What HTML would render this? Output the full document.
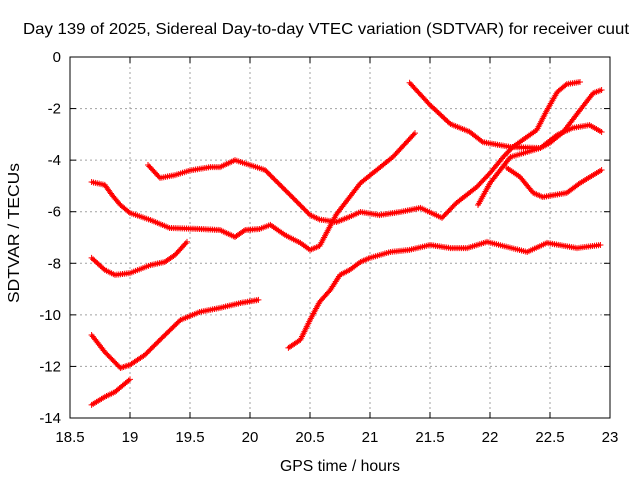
<!DOCTYPE html>
<html><head><meta charset="utf-8"><style>body{margin:0;background:#fff}svg{display:block}text{font-family:"Liberation Sans",sans-serif;font-size:14px;fill:#000}</style></head>
<body>
<svg id="chart" width="640" height="480">
<text x="326" y="34" text-anchor="middle" textLength="606" lengthAdjust="spacingAndGlyphs" style="font-size:16px">Day 139 of 2025, Sidereal Day-to-day VTEC variation (SDTVAR) for receiver cuut</text>
<text x="340" y="471" text-anchor="middle" textLength="120" lengthAdjust="spacingAndGlyphs" style="font-size:15.5px">GPS time / hours</text>
<text x="19" y="233" text-anchor="middle" textLength="140" lengthAdjust="spacingAndGlyphs" style="font-size:15.5px" transform="rotate(-90 19 233)">SDTVAR / TECUs</text>
<g id="grid"></g>
<g id="series"></g>
<rect x="70" y="57" width="540" height="361" fill="none" stroke="#000" stroke-width="1"/>
<g id="ticks"></g>
</svg>
<script>
const xTicks=[18.5,19,19.5,20,20.5,21,21.5,22,22.5,23];
const xTickLabels=["18.5","19","19.5","20","20.5","21","21.5","22","22.5","23"];
const yTicks=[0,-2,-4,-6,-8,-10,-12,-14];
const yTickLabels=["0","-2","-4","-6","-8","-10","-12","-14"];
const seriesA=[[18.68,-4.85],[18.79,-4.96],[18.85,-5.35],[18.92,-5.74],[19.0,-6.05],[19.17,-6.32],[19.33,-6.63],[19.58,-6.67],[19.75,-6.71],[19.875,-6.98],[19.96,-6.71],[20.08,-6.67],[20.17,-6.51],[20.29,-6.9],[20.42,-7.21],[20.5,-7.48],[20.58,-7.33],[20.64,-6.8],[20.72,-6.1],[20.92,-4.89],[21.19,-3.88],[21.375,-2.95]];
const seriesB=[[19.15,-4.19],[19.25,-4.69],[19.375,-4.58],[19.5,-4.4],[19.67,-4.27],[19.75,-4.27],[19.875,-4.0],[20.0,-4.19],[20.125,-4.38],[20.25,-4.96],[20.375,-5.54],[20.5,-6.13],[20.58,-6.3],[20.72,-6.4],[20.83,-6.2],[20.92,-6.01],[21.08,-6.13],[21.25,-6.01],[21.42,-5.85],[21.6,-6.24],[21.72,-5.66],[21.89,-5.04],[22.0,-4.5],[22.11,-3.88],[22.19,-3.49],[22.39,-2.83],[22.475,-2.06],[22.56,-1.36],[22.64,-1.05],[22.75,-0.97]];
const seriesC=[[18.68,-7.79],[18.79,-8.26],[18.875,-8.45],[19.0,-8.38],[19.17,-8.07],[19.29,-7.95],[19.375,-7.68],[19.475,-7.17]];
const seriesD=[[18.68,-10.78],[18.79,-11.44],[18.92,-12.06],[19.0,-11.94],[19.125,-11.55],[19.25,-10.97],[19.42,-10.2],[19.58,-9.89],[19.75,-9.73],[19.92,-9.54],[20.07,-9.42]];
const seriesE=[[18.68,-13.49],[18.79,-13.18],[18.875,-12.99],[19.0,-12.5]];
const seriesF=[[20.32,-11.28],[20.42,-10.97],[20.5,-10.2],[20.58,-9.5],[20.67,-9.03],[20.75,-8.45],[20.83,-8.26],[20.92,-7.95],[21.0,-7.79],[21.17,-7.56],[21.33,-7.48],[21.5,-7.29],[21.67,-7.41],[21.81,-7.41],[21.975,-7.17],[22.31,-7.56],[22.475,-7.21],[22.725,-7.41],[22.92,-7.29]];
const seriesG=[[21.33,-1.0],[21.5,-1.86],[21.67,-2.6],[21.83,-2.9],[21.94,-3.3],[22.17,-3.49],[22.42,-3.53],[22.5,-3.33],[22.61,-2.91],[22.75,-2.06],[22.86,-1.4],[22.93,-1.28]];
const seriesH=[[21.9,-5.74],[22.0,-4.89],[22.17,-3.88],[22.42,-3.53],[22.56,-3.02],[22.69,-2.75],[22.83,-2.64],[22.93,-2.91]];
const seriesI=[[22.14,-4.3],[22.25,-4.65],[22.36,-5.27],[22.44,-5.43],[22.64,-5.27],[22.75,-4.89],[22.93,-4.38]];
const NS="http://www.w3.org/2000/svg";
const X=h=>70+(h-18.5)/4.5*540;
const Y=v=>57+(-v)/14*361;
function mk(tag,at,parent){const e=document.createElementNS(NS,tag);for(const k in at)e.setAttribute(k,at[k]);parent.appendChild(e);return e;}
const grid=document.getElementById('grid'),ticks=document.getElementById('ticks'),ser=document.getElementById('series');
xTicks.forEach((t,i)=>{const x=X(t);
 if(i>0&&i<xTicks.length-1){const g=mk('line',{x1:x,x2:x,y1:57,y2:418,stroke:'#a0a0a0','stroke-dasharray':'2,3'},grid);}
 const a=mk('line',{x1:x,x2:x,y1:418,y2:412,stroke:'#000'},ticks);
 const b=mk('line',{x1:x,x2:x,y1:57,y2:63,stroke:'#000'},ticks);
 const l=mk('text',{x:x,y:442,'text-anchor':'middle',style:'font-size:15px'},ticks);l.textContent=xTickLabels[i];});
yTicks.forEach((t,i)=>{const y=Y(t);
 if(i>0&&i<yTicks.length-1){const g=mk('line',{x1:70,x2:610,y1:y,y2:y,stroke:'#a0a0a0','stroke-dasharray':'2,3'},grid);}
 const a=mk('line',{x1:70,x2:76,y1:y,y2:y,stroke:'#000'},ticks);
 const b=mk('line',{x1:610,x2:604,y1:y,y2:y,stroke:'#000'},ticks);
 const l=mk('text',{x:61,y:y+5,'text-anchor':'end',style:'font-size:15px'},ticks);l.textContent=yTickLabels[i];});
[seriesA,seriesB,seriesC,seriesD,seriesE,seriesF,seriesG,seriesH,seriesI].forEach((s,si)=>{
 const pts=s.map(p=>[X(p[0]),Y(p[1])]);
 const pl=mk('polyline',{points:pts.map(p=>p.join(',')).join(' '),fill:'none',stroke:'#f00','stroke-width':3,'stroke-linejoin':'round'},ser);
 
 let d='';
 for(let i=0;i<pts.length-1;i++){const [x1,y1]=pts[i],[x2,y2]=pts[i+1];const n=Math.max(1,Math.ceil(Math.hypot(x2-x1,y2-y1)/2));
  for(let k=0;k<n;k++){const x=x1+(x2-x1)*k/n,y=y1+(y2-y1)*k/n;d+=`M${x-3},${y}h6M${x},${y-3}v6`;}}
 const [lx,ly]=pts[pts.length-1];d+=`M${lx-3},${ly}h6M${lx},${ly-3}v6`;
 const m=mk('path',{d:d,stroke:'#f00','stroke-width':1,fill:'none'},ser);
 
});
</script>
</body></html>
